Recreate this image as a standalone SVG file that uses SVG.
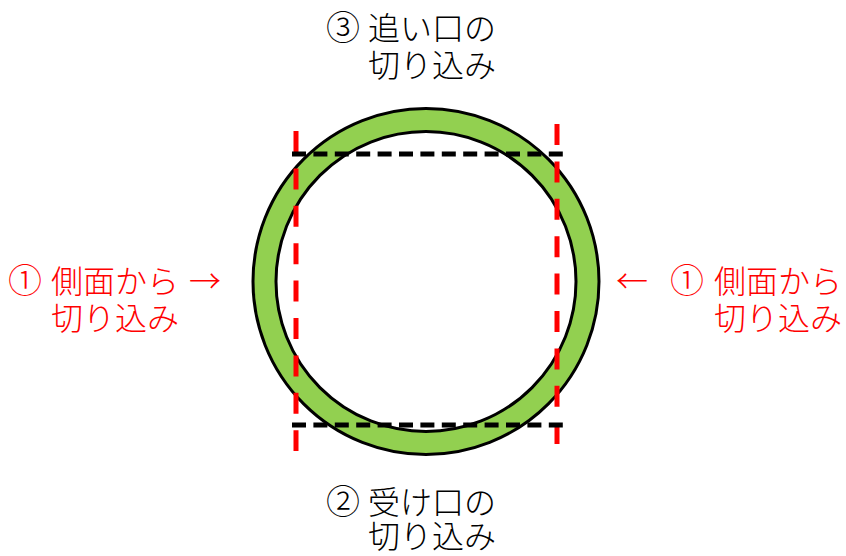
<svg xmlns="http://www.w3.org/2000/svg" width="846" height="556" viewBox="0 0 846 556">
  <style>
    .lbl { font-family: "Noto Sans CJK JP", "Noto Sans", sans-serif; font-size: 32px; font-weight: 300; }
    .num { font-size: 34px; font-weight: 300; }
    .blk { fill: #000000; }
    .red { fill: #FF0000; }
    .edge { fill: none; stroke: #000000; stroke-width: 3; }
    .cutv { stroke: #FF0000; stroke-width: 5; stroke-dasharray: 21 16.4; fill: none; }
    .cuth { stroke: #000000; stroke-width: 5; stroke-dasharray: 14 7.4; fill: none; }
  </style>
  <rect width="846" height="556" fill="#FFFFFF"/>
  <g id="ring">
    <circle cx="426" cy="281.5" r="161.5" fill="none" stroke="#92D050" stroke-width="23"/>
    <circle class="edge" cx="426" cy="281.5" r="173"/>
    <circle class="edge" cx="426" cy="281.5" r="150"/>
  </g>
  <g id="cut-lines">
    <line class="cutv" x1="296" y1="131" x2="296" y2="451"/>
    <line class="cutv" x1="557" y1="124" x2="557" y2="444"/>
    <line class="cuth" x1="292" y1="154" x2="563" y2="154"/>
    <line class="cuth" x1="292" y1="425" x2="565" y2="425"/>
  </g>
  <g id="label-top">
    <text class="lbl blk" y="40"><tspan class="num" x="326">③</tspan><tspan x="368">追い口の</tspan></text>
    <text class="lbl blk" x="368" y="77">切り込み</text>
  </g>
  <g id="label-bottom">
    <text class="lbl blk" y="514"><tspan class="num" x="326">②</tspan><tspan x="368">受け口の</tspan></text>
    <text class="lbl blk" x="368" y="548">切り込み</text>
  </g>
  <g id="label-left">
    <text class="lbl red" y="293"><tspan class="num" x="8">①</tspan><tspan x="51">側面から</tspan><tspan x="189">→</tspan></text>
    <text class="lbl red" x="51" y="330">切り込み</text>
  </g>
  <g id="label-right">
    <text class="lbl red" y="293"><tspan x="616">←</tspan><tspan class="num" x="670">①</tspan></text>
    <text class="lbl red" x="842" y="293" text-anchor="end">側面から</text>
    <text class="lbl red" x="842" y="330" text-anchor="end">切り込み</text>
  </g>
</svg>
